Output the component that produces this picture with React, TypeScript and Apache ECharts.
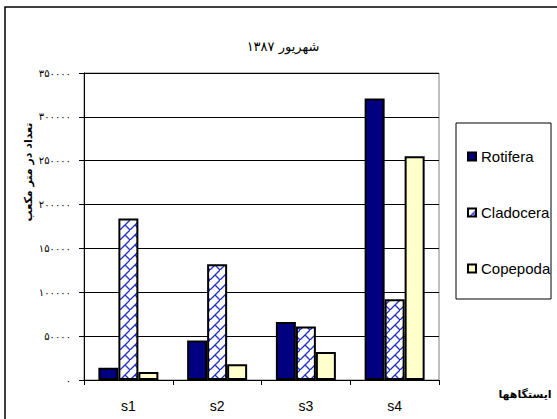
import React, { useEffect, useRef } from "react";
import * as echarts from "echarts";

// Stations and counts per cubic metre for Shahrivar 1387
const stations = ["s1", "s2", "s3", "s4"];
const rotifera = [14000, 45000, 66000, 321000];
const cladocera = [184000, 132000, 61000, 92000];
const copepoda = [9000, 18000, 32000, 255000];
const seriesNames = ["Rotifera", "Cladocera", "Copepoda"];

const chartTitle = "شهریور ۱۳۸۷";
const yTitle = "تعداد در متر مکعب";
const xTitle = "ایستگاهها";

const persianDigits = "۰۱۲۳۴۵۶۷۸۹";
const toPersian = (n: number) =>
  String(n).replace(/[0-9]/g, (d) => persianDigits[Number(d)]);

// Diagonal brick hatch used to fill the Cladocera bars
function makeHatch(): HTMLCanvasElement {
  const c = document.createElement("canvas");
  c.width = 10;
  c.height = 10;
  const ctx = c.getContext("2d")!;
  ctx.fillStyle = "#ffffff";
  ctx.fillRect(0, 0, 10, 10);
  ctx.strokeStyle = "#1f30c8";
  ctx.lineWidth = 1.3;
  ctx.beginPath();
  ctx.moveTo(-1, 11);
  ctx.lineTo(11, -1);
  ctx.moveTo(5, 5);
  ctx.lineTo(10, 10);
  ctx.stroke();
  return c;
}

export default function App() {
  const ref = useRef<HTMLDivElement>(null);

  useEffect(() => {
    if (!ref.current) return;
    const chart = echarts.init(ref.current, undefined, { renderer: "svg" });
    const hatch = makeHatch();
    const border = { borderColor: "#000", borderWidth: 2 };

    chart.setOption({
      animation: false,
      backgroundColor: "#ffffff",
      grid: {
        left: 84,
        right: 118,
        top: 73,
        bottom: 39,
        show: true,
        borderColor: "#808080",
        borderWidth: 1,
        backgroundColor: "transparent",
      },
      legend: {
        orient: "vertical",
        left: 462,
        top: 144,
        itemGap: 41,
        itemWidth: 8,
        itemHeight: 8,
        icon: "rect",
        data: seriesNames,
        textStyle: {
          fontFamily: "Liberation Sans, Arial",
          fontSize: 15,
          color: "#000",
          lineHeight: 15,
        },
      },
      xAxis: {
        type: "category",
        data: stations,
        axisLine: { lineStyle: { color: "#000", width: 1 } },
        axisTick: { show: true, length: 5, lineStyle: { color: "#000" } },
        axisLabel: {
          fontFamily: "Liberation Sans, Arial",
          fontSize: 14,
          color: "#000",
          margin: 19,
        },
      },
      yAxis: {
        type: "value",
        min: 0,
        max: 350000,
        interval: 50000,
        axisLine: { show: true, lineStyle: { color: "#000", width: 1 } },
        axisTick: { show: true, length: 5, lineStyle: { color: "#000" } },
        axisLabel: {
          fontFamily: "DejaVu Sans",
          fontSize: 10,
          color: "#000",
          margin: 13,
          formatter: (v: number) => toPersian(v),
        },
        splitLine: { lineStyle: { color: "#000", width: 1 } },
      },
      series: [
        {
          name: seriesNames[0],
          type: "bar",
          data: rotifera,
          barWidth: 20,
          barGap: "0%",
          itemStyle: { color: "#000080", ...border },
        },
        {
          name: seriesNames[1],
          type: "bar",
          data: cladocera,
          barWidth: 20,
          barGap: "0%",
          itemStyle: {
            color: { image: hatch, repeat: "repeat" },
            ...border,
          },
        },
        {
          name: seriesNames[2],
          type: "bar",
          data: copepoda,
          barWidth: 20,
          barGap: "0%",
          itemStyle: { color: "#ffffcc", ...border },
        },
      ],
      graphic: [
        {
          type: "rect",
          shape: { x: 5, y: 7, width: 600, height: 500 },
          style: { fill: "none", stroke: "#000", lineWidth: 1.5 },
          silent: true,
          z: -10,
        },
        {
          type: "rect",
          shape: { x: 456, y: 123, width: 95, height: 176 },
          style: { fill: "#fff", stroke: "#000", lineWidth: 1 },
          silent: true,
          z: -5,
        },
        {
          type: "text",
          x: 283,
          y: 46,
          style: {
            text: chartTitle,
            align: "center",
            verticalAlign: "middle",
            font: "13px DejaVu Sans",
            fill: "#000",
          },
        },
        {
          type: "text",
          x: 28,
          y: 172,
          rotation: Math.PI / 2,
          style: {
            text: yTitle,
            align: "center",
            verticalAlign: "middle",
            font: "bold 11px DejaVu Sans",
            fill: "#000",
          },
        },
        {
          type: "text",
          x: 525,
          y: 394,
          style: {
            text: xTitle,
            align: "center",
            verticalAlign: "middle",
            font: "bold 11px DejaVu Sans",
            fill: "#000",
          },
        },
      ],
    });

    return () => chart.dispose();
  }, []);

  return (
    <div
      ref={ref}
      style={{ position: "fixed", left: 0, top: 0, width: 557, height: 419 }}
    />
  );
}
